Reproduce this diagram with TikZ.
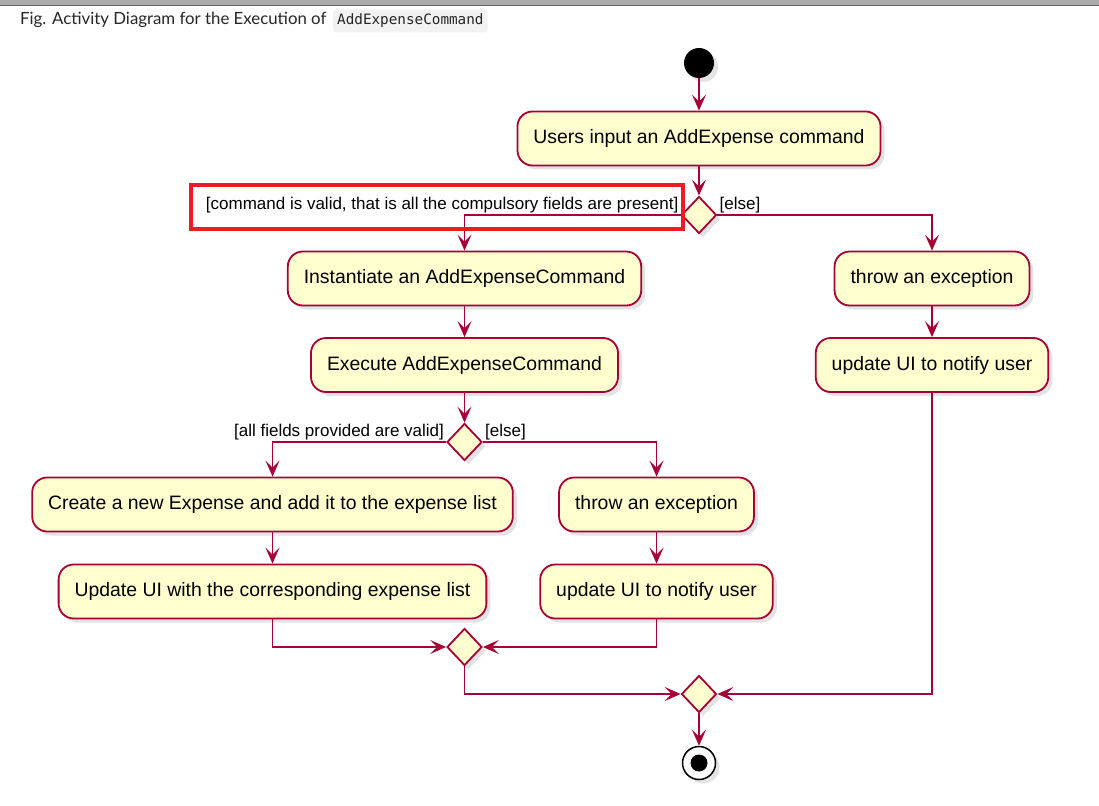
\documentclass[tikz,border=0pt]{standalone}
\usepackage{fontspec}
\setmainfont{Liberation Sans}
\newfontfamily\captionfont{Lato}
\newfontfamily\codefont{DejaVu Sans Mono}
\usetikzlibrary{shapes.geometric,arrows.meta,shadows}
\definecolor{umlred}{RGB}{168,0,54}
\definecolor{umlfill}{RGB}{254,254,206}
\definecolor{markred}{RGB}{237,28,36}
\definecolor{codegray}{RGB}{242,242,242}

\tikzset{
  umlshadow/.style={drop shadow={shadow xshift=4pt, shadow yshift=-4pt, opacity=0.22}},
  activ/.style={draw=umlred, fill=umlfill, line width=1.8pt, rounded corners=15pt,
    minimum height=54pt, inner xsep=16pt, font=\fontsize{19.4}{22}\selectfont, umlshadow},
  decis/.style={diamond, draw=umlred, fill=umlfill, line width=1.8pt,
    minimum width=35pt, minimum height=37pt, inner sep=0pt, umlshadow},
  flow/.style={umlred, line width=1.8pt, -{Stealth[length=16pt,width=14pt,inset=7pt]}},
  guard/.style={font=\fontsize{17}{19}\selectfont, inner sep=2pt}
}

\begin{document}
\begin{tikzpicture}[x=1pt,y=-1pt]
\useasboundingbox (0,0) rectangle (1099,805);

% page header
\fill [gray!65] (0,0) rectangle (1099,5);
\draw [black!60, line width=1pt] (0,5.5) -- (1099,5.5);
\node [anchor=west, inner sep=0pt, text=black!85, font=\captionfont\fontsize{16.8}{19}\selectfont] (caption) at (20,20) {Fig. Activity Diagram for the Execution of};
\node [anchor=west, fill=codegray, rounded corners=3pt, inner xsep=4pt, minimum height=23pt, text=black!85, font=\codefont\fontsize{14.3}{16}\selectfont] (code) at (333,21) {AddExpenseCommand};

% start
\node [circle, fill=black, minimum size=30pt, inner sep=0pt, umlshadow] (start) at (699,63) {};
\node [activ] (input) at (699,138.5) {Users input an AddExpense command};
\node [decis] (valid) at (699,215) {};

% valid command
\node [activ] (inst) at (464.5,278.5) {Instantiate an AddExpenseCommand};
\node [activ] (exec) at (464.5,365) {Execute AddExpenseCommand};
\node [decis] (fields) at (464.5,442) {};
\node [activ] (create) at (272.5,504.5) {Create a new Expense and add it to the expense list};
\node [activ] (update) at (272.5,591.5) {Update UI with the corresponding expense list};
\node [activ] (throwB) at (656.5,504.5) {throw an exception};
\node [activ] (notifyB) at (656.5,591.5) {update UI to notify user};
\node [decis] (mergeA) at (464.5,647) {};

% invalid command
\node [activ] (throwA) at (932,278.5) {throw an exception};
\node [activ] (notifyA) at (932,365) {update UI to notify user};

% end
\node [decis] (mergeB) at (699,694) {};
\node [circle, draw=black, fill=white, line width=1.5pt, minimum size=33pt, inner sep=0pt, umlshadow] (stop) at (699,763) {};
\fill (stop) circle (8.5pt);

% guards
\node [guard, anchor=south east] (gvalid) at (valid.west) {[command is valid, that is all the compulsory fields are present]};
\node [guard, anchor=south west] (gelseA) at (valid.east) {[else]};
\node [guard, anchor=south east] (gfields) at (fields.west) {[all fields provided are valid]};
\node [guard, anchor=south west] (gelseB) at (fields.east) {[else]};

% flows
\draw [flow] (start) -- (input);
\draw [flow] (input) -- (valid);
\draw [flow] (valid.west) -| (inst.north);
\draw [flow] (valid.east) -| (throwA.north);
\draw [flow] (inst) -- (exec);
\draw [flow] (exec) -- (fields);
\draw [flow] (fields.west) -| (create.north);
\draw [flow] (fields.east) -| (throwB.north);
\draw [flow] (create) -- (update);
\draw [flow] (throwB) -- (notifyB);
\draw [flow] (update.south) |- (mergeA.west);
\draw [flow] (notifyB.south) |- (mergeA.east);
\draw [flow] (throwA) -- (notifyA);
\draw [flow] (mergeA.south) |- (mergeB.west);
\draw [flow] (notifyA.south) |- (mergeB.east);
\draw [flow] (mergeB) -- (stop);

% highlight
\draw [markred, line width=4pt] (191,185) rectangle (683,229);

\end{tikzpicture}
\end{document}
